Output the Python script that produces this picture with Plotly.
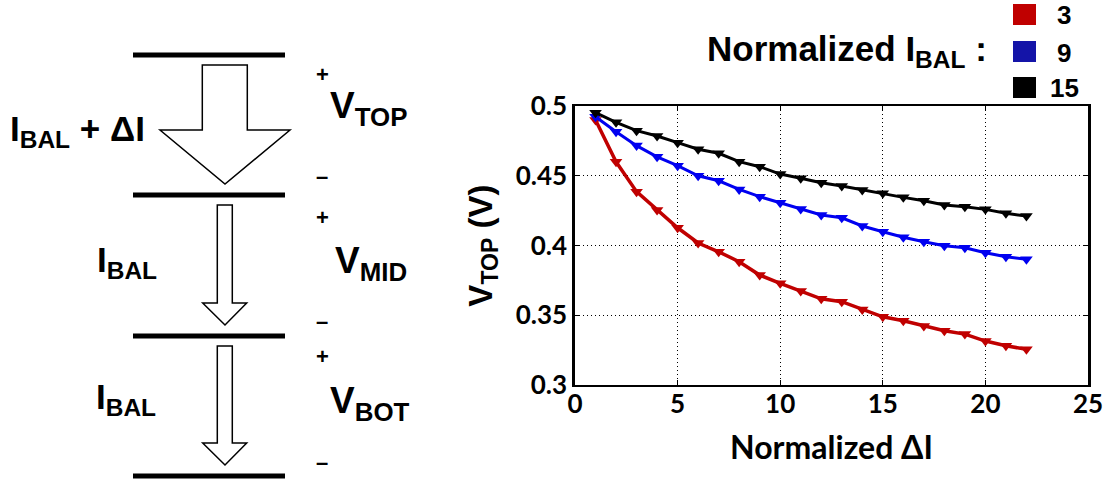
import plotly.graph_objects as go

W, H = 1111, 483

# ---------------- data ----------------
delta_i = list(range(1, 23))
ibal_labels = ["3", "9", "15"]
v_top_ibal3 = [0.490, 0.460, 0.4386, 0.4254, 0.4127, 0.4018, 0.3955, 0.3884, 0.3788, 0.3729,
               0.3674, 0.3618, 0.3597, 0.3542, 0.3489, 0.3461, 0.3423, 0.3389, 0.3365, 0.3315,
               0.3281, 0.3256]
v_top_ibal9 = [0.4923, 0.4816, 0.4716, 0.4636, 0.4572, 0.4500, 0.4464, 0.4402, 0.4350, 0.4307,
               0.4262, 0.4219, 0.4199, 0.4140, 0.4099, 0.4059, 0.4027, 0.3998, 0.3984, 0.3948,
               0.3919, 0.3901]
v_top_ibal15 = [0.4952, 0.4883, 0.4823, 0.4785, 0.4737, 0.4690, 0.4661, 0.4601, 0.4565, 0.4512,
                0.4482, 0.4450, 0.4426, 0.4398, 0.4374, 0.4345, 0.4321, 0.4290, 0.4278, 0.4259,
                0.4231, 0.4211]
series = [v_top_ibal3, v_top_ibal9, v_top_ibal15]
line_colors = ["#C00000", "#0000F0", "#000000"]
line_widths = [3.5, 3, 3]
legend_colors = ["#C00000", "#1414A8", "#000000"]

x_ticks = [0, 5, 10, 15, 20, 25]
y_ticks = [0.3, 0.35, 0.4, 0.45, 0.5]
y_tick_text = ["0.3", "0.35", "0.4", "0.45", "0.5"]


def px(x):
    return x / W


def py(y):
    return 1 - y / H


fig = go.Figure()
for vals, col, lw, lab in zip(series, line_colors, line_widths, ibal_labels):
    fig.add_trace(go.Scatter(
        x=delta_i, y=vals, mode="lines+markers", name=lab,
        line=dict(color=col, width=lw),
        marker=dict(symbol="triangle-down", size=11, color=col),
        showlegend=False,
    ))

tick_font = dict(family="Lato, Liberation Sans, Arial", size=26, color="black", weight="bold")

fig.update_layout(
    width=W, height=H,
    margin=dict(l=0, r=0, t=0, b=0, autoexpand=False),
    paper_bgcolor="white", plot_bgcolor="white",
    xaxis=dict(
        domain=[px(575), px(1088)], range=[0, 25], automargin=False,
        tickvals=x_ticks, ticktext=[str(t) for t in x_ticks],
        tickfont=tick_font, ticks="inside", ticklen=5, tickcolor="black",
        ticklabelstandoff=-5,
        showline=True, linecolor="black", linewidth=2, mirror="ticks",
        showgrid=True, gridcolor="black", griddash="1px,3px", gridwidth=1,
        zeroline=False,
        title=dict(text="Normalized ΔI", standoff=18,
                   font=dict(family="Lato, Liberation Sans, Arial", size=32, color="black", weight="bold")),
    ),
    yaxis=dict(
        domain=[py(385), py(106)], range=[0.3, 0.5], automargin=False,
        tickvals=y_ticks, ticktext=y_tick_text,
        tickfont=tick_font, ticks="inside", ticklen=5, tickcolor="black",
        showline=True, linecolor="black", linewidth=2.5, mirror="ticks",
        showgrid=True, gridcolor="black", griddash="1px,3px", gridwidth=1,
        zeroline=False,
        title=dict(text="V<sub>TOP</sub> (V)", standoff=14,
                   font=dict(family="Liberation Sans, Arial", size=33, color="black", weight="bold")),
    ),
)

# ---------------- left schematic ----------------
shapes = []
for yy in [55, 195, 336, 476]:
    shapes.append(dict(type="line", xref="paper", yref="paper",
                       x0=px(133), x1=px(285), y0=py(yy), y1=py(yy),
                       line=dict(color="black", width=5)))


def arrow_path(pts):
    s = "M " + " L ".join(f"{px(a):.5f},{py(b):.5f}" for a, b in pts) + " Z"
    return s


big_arrow = [(202.3, 65), (247.3, 65), (247.3, 130), (290, 130), (225, 184), (160, 130), (202.3, 130)]
small_arrow1 = [(217.3, 205), (232.3, 205), (232.3, 303), (246.7, 303), (225, 325), (202.7, 303), (217.3, 303)]
small_arrow2 = [(217.3, 346), (232.3, 346), (232.3, 443), (246.7, 443), (225, 465), (202.7, 443), (217.3, 443)]
for pts in [big_arrow, small_arrow1, small_arrow2]:
    shapes.append(dict(type="path", xref="paper", yref="paper", path=arrow_path(pts),
                       line=dict(color="black", width=1.5), fillcolor="white"))

# legend squares
leg_y = [(4, 25), (41, 62), (77, 98)]
for (y0, y1), col in zip(leg_y, legend_colors):
    shapes.append(dict(type="rect", xref="paper", yref="paper",
                       x0=px(1013), x1=px(1036), y0=py(y1), y1=py(y0),
                       line=dict(width=0), fillcolor=col))
fig.update_layout(shapes=shapes)

dfont = dict(family="Liberation Sans, Arial", color="black", weight="bold")


def ann(text, x, y, size, xanchor="left", yanchor="middle"):
    fig.add_annotation(text=text, x=px(x), y=py(y), xref="paper", yref="paper",
                       showarrow=False, xanchor=xanchor, yanchor=yanchor,
                       font=dict(size=size, **dfont))


ann("I<sub>BAL</sub> + ΔI", 8, 131, 35)
ann("I<sub>BAL</sub>", 95, 262, 35)
ann("I<sub>BAL</sub>", 94, 399, 35)
ann("V<sub>TOP</sub>", 328, 108, 37)
ann("V<sub>MID</sub>", 333, 263, 37)
ann("V<sub>BOT</sub>", 328, 403, 37)
for yy in [75, 217, 356]:
    ann("+", 322, yy, 22, xanchor="center")
for yy in [176, 321, 462]:
    ann("–", 322, yy, 22, xanchor="center")

ann("Normalized I<sub>BAL</sub> :", 705, 51, 35)
for (y0, y1), lab in zip(leg_y, ibal_labels):
    ann(lab, 1064, (y0 + y1) / 2 + 1, 26, xanchor="center")

fig.write_html("out.html")
